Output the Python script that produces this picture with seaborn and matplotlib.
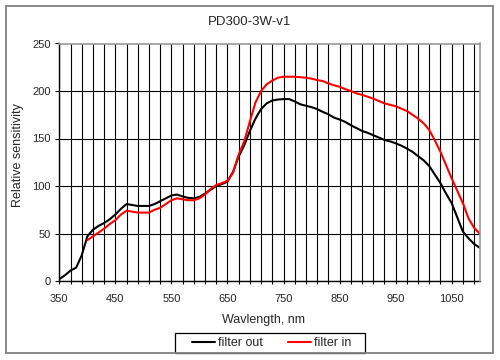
import numpy as np
import pandas as pd
import matplotlib
matplotlib.use("Agg")
import matplotlib.pyplot as plt
from matplotlib.ticker import FixedLocator
from matplotlib.patches import Rectangle
import seaborn as sns

wl_out = list(range(350, 1101, 10))
filter_out = [2, 6, 11, 14, 27, 47, 54, 58, 61, 65, 70, 76, 81, 80, 79, 79, 79, 81, 84, 87,
              90, 91, 89, 87.5, 87, 88.5, 92, 96, 100, 102, 104.5, 115, 131, 143, 158, 171,
              181, 187, 190, 191, 191.5, 191.5, 189, 186, 184.5, 183, 181, 178, 175.5, 172,
              170, 167.5, 164, 161, 158, 156, 153.5, 151, 148.5, 147, 145, 142.5, 139.5, 136,
              131.5, 127, 121, 112, 103, 92, 82, 67, 52, 45, 39, 35]
wl_in = list(range(400, 1101, 10))
filter_in = [43, 47, 51, 55, 60, 64, 70, 74, 73, 72, 72, 72, 75, 77, 81, 85, 87, 86, 85, 85,
             87, 91, 97, 101, 103, 105.5, 114, 133, 147, 168, 188, 200, 207, 211, 214, 215,
             215, 215, 214.5, 214, 213, 211.5, 210.5, 208, 206, 204.5, 202, 200, 197.5, 196,
             194, 192, 189.5, 187, 185.5, 184, 181.5, 179, 175, 171, 166, 159, 148, 136, 122,
             108, 95, 82, 66, 56, 50]
series_names = ["filter out", "filter in"]
title = "PD300-3W-v1"
x_label = "Wavlength, nm"
y_label = "Relative sensitivity"
x_ticks = list(range(350, 1051, 100))
y_ticks = list(range(0, 251, 50))

df = pd.concat([
    pd.DataFrame({"wl": wl_out, "val": filter_out, "series": series_names[0]}),
    pd.DataFrame({"wl": wl_in, "val": filter_in, "series": series_names[1]}),
])

sns.set_style("white")
plt.rcParams["font.family"] = ["Liberation Sans", "DejaVu Sans"]

W, H = 500, 360
fig = plt.figure(figsize=(5, 3.6), dpi=100)
ax = fig.add_axes([59.3 / W, 1 - 281 / H, (479.7 - 59.3) / W, (281 - 43.5) / H])

sns.lineplot(data=df, x="wl", y="val", hue="series", palette=["#000000", "#ff0000"],
             linewidth=1.5, ax=ax, legend=False, estimator=None, sort=False)

ax.set_xlim(350, 1100)
ax.set_ylim(0, 250)
ax.set_xticks(x_ticks)
ax.set_xticklabels([str(t) for t in x_ticks], fontsize=8)
ax.xaxis.set_minor_locator(FixedLocator(list(range(350, 1100, 20))))
ax.set_yticks(y_ticks)
ax.set_yticklabels([str(t) for t in y_ticks], fontsize=8)
ax.tick_params(axis="x", which="both", direction="out", length=2.5, width=0.8, pad=7, color="black")
ax.tick_params(axis="y", which="major", direction="out", length=3, width=0.8, pad=3, color="black", left=True)
ax.tick_params(axis="x", which="major", bottom=True)
ax.tick_params(axis="x", which="minor", bottom=True)

ax.grid(True, which="minor", axis="x", color="black", linewidth=0.8)
ax.grid(True, which="major", axis="x", color="black", linewidth=0.8)
ax.grid(True, which="major", axis="y", color="black", linewidth=0.8)
ax.set_axisbelow(True)
ax.set_xlabel("")
ax.set_ylabel("")

for side in ["left", "bottom"]:
    ax.spines[side].set_color("black")
    ax.spines[side].set_linewidth(1.0)
    ax.spines[side].set_visible(True)
for side in ["top", "right"]:
    ax.spines[side].set_color("#999999")
    ax.spines[side].set_linewidth(1.2)
    ax.spines[side].set_visible(True)
    ax.spines[side].set_zorder(5)

fig.text(250 / W, 1 - 22 / H, title, ha="center", va="center", fontsize=9.5)
fig.text(264 / W, 1 - 320 / H, x_label, ha="center", va="center", fontsize=9)
fig.text(18 / W, 1 - 155.5 / H, y_label, ha="center", va="center", rotation=90, fontsize=9)

handles = [plt.Line2D([], [], color="#000000", lw=1.5), plt.Line2D([], [], color="#ff0000", lw=1.5)]
leg = fig.legend(handles, series_names, loc="center left", bbox_to_anchor=(191.7 / W, 1 - 343 / H),
                 ncol=2, fontsize=9, frameon=False, borderpad=0, borderaxespad=0,
                 handlelength=1.85, handletextpad=0.25, columnspacing=2.0)

fig.patches.append(Rectangle((175 / W, 1 - 353 / H), (365 - 175) / W, (353 - 333.3) / H,
                             transform=fig.transFigure, fill=False, edgecolor="black",
                             linewidth=0.9, zorder=9))
fig.patches.append(Rectangle((5.5 / W, 1 - 353 / H), (493 - 5.5) / W, (353 - 5.5) / H,
                             transform=fig.transFigure, fill=False, edgecolor="#808080",
                             linewidth=1.3, zorder=10))

fig.savefig("out.png", dpi=100, facecolor="white")
